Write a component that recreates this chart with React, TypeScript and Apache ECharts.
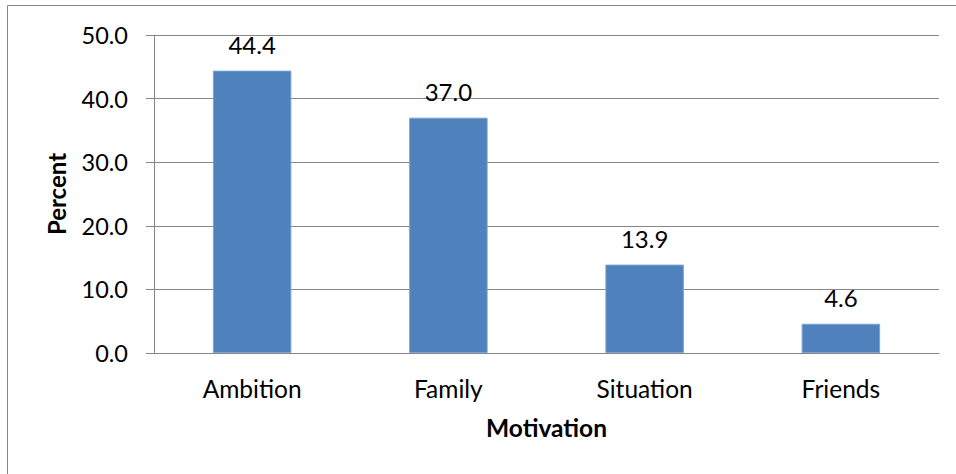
import React, { useEffect, useRef } from "react";
import * as echarts from "echarts";

const categories = ["Ambition", "Family", "Situation", "Friends"];
const percentValues = [44.4, 37.0, 13.9, 4.6];
const yTicks = { min: 0, max: 50, interval: 10 };
const xTitle = "Motivation";
const yTitle = "Percent";

const FONT = "Lato, 'Open Sans', sans-serif";
const GRAY = "#868686";

export default function App() {
  const ref = useRef<HTMLDivElement>(null);
  useEffect(() => {
    if (!ref.current) return;
    const chart = echarts.init(ref.current, null, { renderer: "svg" });
    chart.setOption({
      animation: false,
      backgroundColor: "#ffffff",
      textStyle: { fontFamily: FONT },
      graphic: [
        {
          type: "rect",
          shape: { x: 7.5, y: 5.5, width: 1200, height: 800 },
          style: { fill: "none", stroke: GRAY, lineWidth: 1 },
          silent: true,
        },
      ],
      grid: { left: 154, right: 17, top: 35, bottom: 121, containLabel: false },
      xAxis: {
        type: "category",
        data: categories,
        axisLine: { show: true, lineStyle: { color: GRAY, width: 1 } },
        axisTick: { show: false },
        axisLabel: { color: "#000", fontSize: 24.5, fontFamily: FONT, margin: 23 },
        name: xTitle,
        nameLocation: "middle",
        nameGap: 62,
        nameTextStyle: { color: "#000", fontSize: 24.5, fontWeight: "bold", fontFamily: FONT },
      },
      yAxis: {
        type: "value",
        min: yTicks.min,
        max: yTicks.max,
        interval: yTicks.interval,
        axisLine: { show: true, lineStyle: { color: GRAY, width: 1 } },
        axisTick: { show: true, length: 8, lineStyle: { color: GRAY } },
        splitLine: { show: true, lineStyle: { color: GRAY, width: 1 } },
        axisLabel: {
          color: "#000",
          fontSize: 23.5,
          fontFamily: FONT,
          margin: 26,
          formatter: (v: number) => v.toFixed(1),
        },
        name: yTitle,
        nameLocation: "middle",
        nameGap: 86,
        nameRotate: 90,
        nameTextStyle: { color: "#000", fontSize: 24, fontWeight: "bold", fontFamily: FONT },
      },
      series: [
        {
          type: "bar",
          data: percentValues,
          barWidth: "40%",
          itemStyle: { color: "#4F81BD", borderColor: "#7fa3d3", borderWidth: 1 },
          label: {
            show: true,
            position: "top",
            distance: 14,
            color: "#000",
            fontSize: 24,
            fontFamily: FONT,
            formatter: (p: any) => Number(p.value).toFixed(1),
          },
        },
      ],
    });
    return () => chart.dispose();
  }, []);
  return (
    <div
      ref={ref}
      style={{ position: "fixed", left: 0, top: 0, width: 956, height: 474, background: "#fff" }}
    />
  );
}
